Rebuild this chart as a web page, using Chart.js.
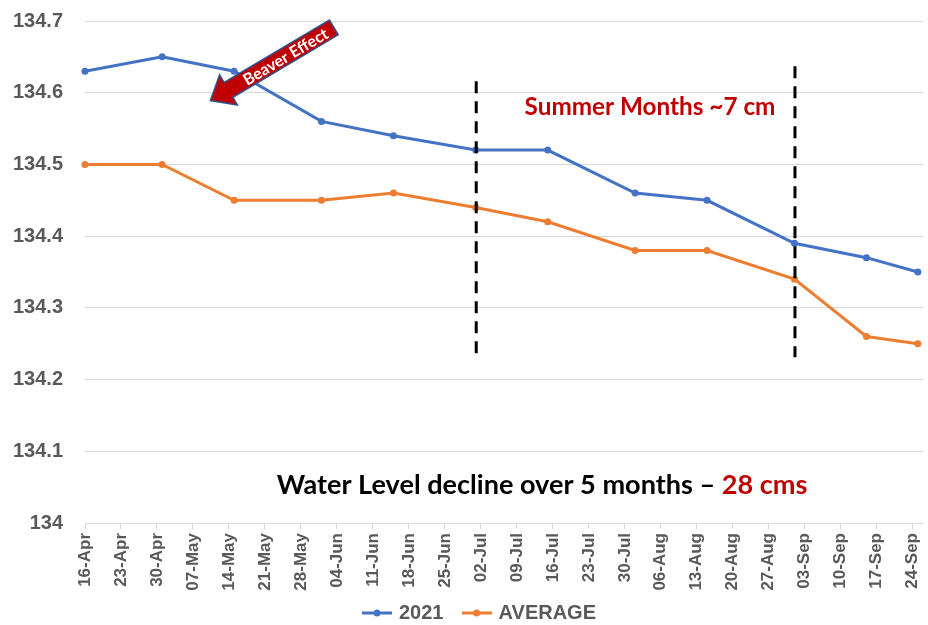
<!DOCTYPE html>
<html>
<head>
<meta charset="utf-8">
<script src="https://cdn.jsdelivr.net/npm/chart.js@4/dist/chart.umd.min.js"></script>
<style>
html,body{margin:0;padding:0;background:#ffffff;}
#wrap{width:928px;height:625px;position:relative;}
</style>
</head>
<body>
<div id="wrap"><canvas id="chart" width="928" height="625"></canvas></div>
<script>
// ---------------- DATA ----------------
const dates = ['2021-04-16','2021-05-01','2021-05-15','2021-06-01','2021-06-15','2021-07-01',
               '2021-07-15','2021-08-01','2021-08-15','2021-09-01','2021-09-15','2021-09-25'];
const series2021 = [134.63,134.65,134.63,134.56,134.54,134.52,134.52,134.46,134.45,134.39,134.37,134.35];
const seriesAverage = [134.50,134.50,134.45,134.45,134.46,134.44,134.42,134.38,134.38,134.34,134.26,134.25];
const seriesNames = ['2021','AVERAGE'];
const xTickLabels = ['16-Apr','23-Apr','30-Apr','07-May','14-May','21-May','28-May','04-Jun','11-Jun',
                     '18-Jun','25-Jun','02-Jul','09-Jul','16-Jul','23-Jul','30-Jul','06-Aug','13-Aug',
                     '20-Aug','27-Aug','03-Sep','10-Sep','17-Sep','24-Sep'];
const yTickValues = [134.7,134.6,134.5,134.4,134.3,134.2,134.1,134.0];
const yTickLabels = ['134.7','134.6','134.5','134.4','134.3','134.2','134.1','134'];
const summerStart = '2021-07-01';
const summerEnd = '2021-09-01';
const summerLabel = 'Summer Months ~7 cm';
const declineLabel = 'Water Level decline over 5 months \u2013 ';
const declineValue = '28 cms';
const beaverLabel = 'Beaver Effect';

// ---------------- HELPERS ----------------
const ORIGIN = Date.UTC(2021, 3, 16);
const MONTHS = {Jan:0,Feb:1,Mar:2,Apr:3,May:4,Jun:5,Jul:6,Aug:7,Sep:8,Oct:9,Nov:10,Dec:11};
function dayOf(iso) {
  const [y, m, d] = iso.split('-').map(Number);
  return (Date.UTC(y, m - 1, d) - ORIGIN) / 86400000;
}
function dayOfLabel(lbl) {
  const [d, mon] = lbl.split('-');
  return (Date.UTC(2021, MONTHS[mon], Number(d)) - ORIGIN) / 86400000;
}
const xTickValues = xTickLabels.map(dayOfLabel);

const BLUE = '#4472C4', ORANGE = '#ED7D31', GRID = '#D9D9D9', TXT = '#595959', RED = '#C00000';
const FONT = 'Lato, "Liberation Sans", Arial, sans-serif';
const AXFONT = '"Liberation Sans", Arial, sans-serif';

function legendIcon(color) {
  const c = document.createElement('canvas');
  c.width = 30; c.height = 12;
  const g = c.getContext('2d');
  g.strokeStyle = color; g.lineWidth = 3;
  g.beginPath(); g.moveTo(0, 6); g.lineTo(30, 6); g.stroke();
  g.fillStyle = color;
  g.beginPath(); g.arc(15, 6, 3.5, 0, Math.PI * 2); g.fill();
  return c;
}
const legendIcons = [legendIcon(BLUE), legendIcon(ORANGE)];

function fitFont(ctx, text, targetW) {
  ctx.font = 'bold 20px ' + FONT;
  const w = ctx.measureText(text).width;
  return 20 * targetW / w;
}

// ---------------- ANNOTATIONS ----------------
const annotationPlugin = {
  id: 'annotations',
  afterLayout(chart) {
    const lg = chart.legend;
    if (lg) { lg.left += 19; lg.right += 19; }
  },
  afterDatasetsDraw(chart) {
    const ctx = chart.ctx;
    const xs = chart.scales.x, ys = chart.scales.y;
    ctx.save();
    // dashed summer boundaries
    ctx.strokeStyle = '#000000';
    ctx.lineWidth = 3;
    ctx.setLineDash([12, 8]);
    [[summerStart, 134.616], [summerEnd, 134.637]].forEach(([d, top]) => {
      const x = xs.getPixelForValue(dayOf(d)) + 0.5;
      ctx.beginPath();
      ctx.moveTo(x, ys.getPixelForValue(top));
      ctx.lineTo(x, ys.getPixelForValue(134.231));
      ctx.stroke();
    });
    ctx.setLineDash([]);

    // Summer text
    let fs = fitFont(ctx, summerLabel, 251);
    ctx.font = 'bold ' + fs + 'px ' + FONT;
    ctx.fillStyle = RED;
    ctx.textAlign = 'center';
    ctx.textBaseline = 'alphabetic';
    ctx.fillText(summerLabel, xs.getPixelForValue(109.9), ys.getPixelForValue(134.569));

    // Decline text
    fs = fitFont(ctx, declineLabel + declineValue, 531);
    ctx.font = 'bold ' + fs + 'px ' + FONT;
    const w1 = ctx.measureText(declineLabel).width;
    const w2 = ctx.measureText(declineValue).width;
    const cx = xs.getPixelForValue(88.9);
    const by = ys.getPixelForValue(134.041);
    ctx.textAlign = 'left';
    ctx.fillStyle = '#000000';
    ctx.fillText(declineLabel, cx - (w1 + w2) / 2, by);
    ctx.fillStyle = RED;
    ctx.fillText(declineValue, cx - (w1 + w2) / 2 + w1, by);

    // Beaver Effect arrow
    const tx = xs.getPixelForValue(24.4), ty = ys.getPixelForValue(134.589);
    const ex = xs.getPixelForValue(48.4), ey = ys.getPixelForValue(134.691);
    const L = Math.hypot(ex - tx, ey - ty);
    const ang = Math.atan2(ey - ty, ex - tx);
    ctx.translate(tx, ty);
    ctx.rotate(ang);
    const hl = 21, hw = 17.5, sw = 8.6;
    ctx.beginPath();
    ctx.moveTo(0, 0);
    ctx.lineTo(hl, -hw);
    ctx.lineTo(hl, -sw);
    ctx.lineTo(L, -sw);
    ctx.lineTo(L, sw);
    ctx.lineTo(hl, sw);
    ctx.lineTo(hl, hw);
    ctx.closePath();
    ctx.fillStyle = RED;
    ctx.fill();
    ctx.strokeStyle = '#2F528F';
    ctx.lineWidth = 1.5;
    ctx.lineJoin = 'miter';
    ctx.stroke();
    fs = fitFont(ctx, beaverLabel, 96);
    ctx.font = 'bold ' + fs + 'px ' + FONT;
    ctx.fillStyle = '#FFFFFF';
    ctx.textAlign = 'center';
    ctx.textBaseline = 'middle';
    ctx.fillText(beaverLabel, 87, 1);
    ctx.restore();
  }
};

// ---------------- CHART ----------------
new Chart(document.getElementById('chart'), {
  type: 'line',
  data: {
    datasets: [
      {
        label: seriesNames[0],
        data: dates.map((d, i) => ({x: dayOf(d), y: series2021[i]})),
        borderColor: BLUE, backgroundColor: BLUE,
        borderWidth: 3, pointRadius: 3.5, pointBorderWidth: 0,
        pointBackgroundColor: BLUE, tension: 0, clip: false
      },
      {
        label: seriesNames[1],
        data: dates.map((d, i) => ({x: dayOf(d), y: seriesAverage[i]})),
        borderColor: ORANGE, backgroundColor: ORANGE,
        borderWidth: 3, pointRadius: 3.5, pointBorderWidth: 0,
        pointBackgroundColor: ORANGE, tension: 0, clip: false
      }
    ]
  },
  options: {
    responsive: false,
    animation: false,
    events: [],
    layout: {padding: {top: 21, right: 5, bottom: 0, left: 0}},
    scales: {
      x: {
        type: 'linear',
        min: 0, max: 163,
        afterBuildTicks: s => { s.ticks = xTickValues.map(v => ({value: v})); },
        afterFit: s => { s.height = 70; s.paddingLeft = 0; s.paddingRight = 0; },
        grid: {drawOnChartArea: false, drawTicks: true, tickLength: 6, color: GRID, lineWidth: 1},
        border: {display: true, color: GRID, width: 1},
        ticks: {
          autoSkip: false, maxRotation: 90, minRotation: 90, padding: 4,
          color: TXT, font: {family: AXFONT, size: 17, weight: 'bold'},
          callback: (v, i) => xTickLabels[i]
        }
      },
      y: {
        min: 134, max: 134.7,
        afterBuildTicks: s => { s.ticks = yTickValues.slice().reverse().map(v => ({value: v})); },
        afterFit: s => { s.width = 85; s.paddingTop = 0; s.paddingBottom = 0; },
        grid: {color: GRID, lineWidth: 1, drawTicks: false},
        border: {display: false},
        ticks: {
          padding: 22, color: TXT, font: {family: AXFONT, size: 20, weight: 'bold'},
          callback: (v, i) => yTickLabels[yTickLabels.length - 1 - i]
        }
      }
    },
    plugins: {
      tooltip: {enabled: false},
      legend: {
        position: 'bottom',
        maxHeight: 32,
        labels: {
          usePointStyle: true, pointStyleWidth: 24, padding: 10,
          color: TXT, font: {family: AXFONT, size: 20, weight: 'bold'},
          generateLabels: chart => {
            const items = Chart.defaults.plugins.legend.labels.generateLabels(chart);
            items.forEach((it, i) => {
              it.pointStyle = legendIcons[i];
              if (i < items.length - 1) it.text = it.text + '\u00A0\u00A0';
            });
            return items;
          }
        }
      }
    }
  },
  plugins: [annotationPlugin]
});
</script>
</body>
</html>
